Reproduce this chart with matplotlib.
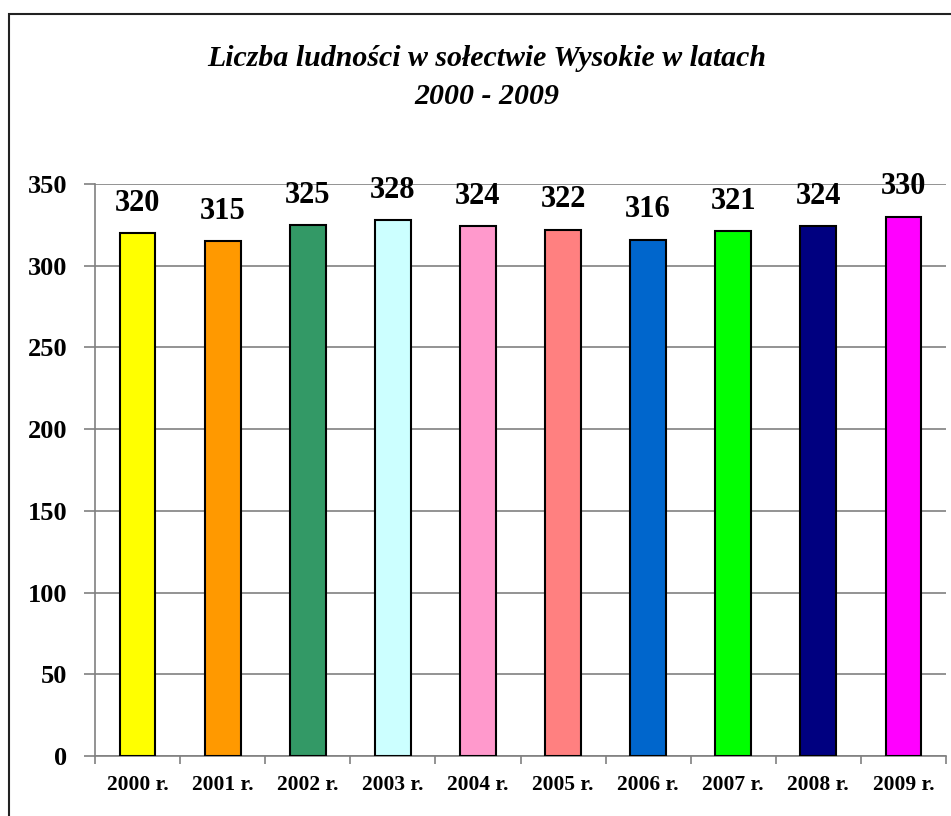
import matplotlib.pyplot as plt
from matplotlib.patches import Rectangle

years = ["2000 r.", "2001 r.", "2002 r.", "2003 r.", "2004 r.",
         "2005 r.", "2006 r.", "2007 r.", "2008 r.", "2009 r."]
population = [320, 315, 325, 328, 324, 322, 316, 321, 324, 330]
colors = ["#FFFF00", "#FF9900", "#339966", "#CCFFFF", "#FF99CC",
          "#FF8080", "#0066CC", "#00FF00", "#000080", "#FF00FF"]
yticks = [0, 50, 100, 150, 200, 250, 300, 350]

plt.rcParams['font.family'] = ['Liberation Serif', 'DejaVu Serif']

W, H = 951, 816
fig = plt.figure(figsize=(W / 100, H / 100), dpi=100)
# axes box in pixels: left 95, right 946, top 184, bottom 756
ax = fig.add_axes([95 / W, 1 - 756 / H, (946 - 95) / W, (756 - 184) / H])

x = range(len(years))
ax.bar(x, population, width=0.42, color=colors, edgecolor='black', linewidth=1.5, zorder=3)
for xi, v in zip(x, population):
    ax.annotate(str(v), (xi, v), xytext=(0, 11), textcoords='offset points',
                ha='center', va='bottom', fontsize=22, fontweight='bold')

ax.set_xlim(-0.5, len(years) - 0.5)
ax.set_ylim(0, 350)
ax.set_yticks(yticks)
ax.set_yticklabels([str(t) for t in yticks], fontsize=19, fontweight='bold')
ax.yaxis.grid(True, color='#808080', linewidth=1.2, zorder=0)
ax.set_xticks(x)
ax.set_xticklabels(years, fontsize=15.5, fontweight='bold')
# category boundary ticks
ax.set_xticks([i - 0.5 for i in range(len(years) + 1)], minor=True)
ax.tick_params(axis='x', which='major', length=0, pad=14)
ax.tick_params(axis='x', which='minor', length=6, width=1.2, color='#808080')
ax.tick_params(axis='y', length=8, width=1.2, color='#808080', pad=12)
for s in ['top', 'right']:
    ax.spines[s].set_visible(False)
for s in ['left', 'bottom']:
    ax.spines[s].set_color('#808080')
    ax.spines[s].set_linewidth(1.2)

fig.text(487 / W, 1 - 58 / H, "Liczba ludności w sołectwie Wysokie w latach",
         ha='center', va='center', fontsize=21.5, fontweight='bold', style='italic')
fig.text(487 / W, 1 - 97 / H, "2000 - 2009",
         ha='center', va='center', fontsize=21.5, fontweight='bold', style='italic')

fig.patches.append(Rectangle((9 / W, -0.05), 1.1, 1 - 14 / H + 0.05,
                             transform=fig.transFigure, fill=False,
                             edgecolor='#222222', linewidth=1.5))

fig.savefig('out.png', dpi=100)
